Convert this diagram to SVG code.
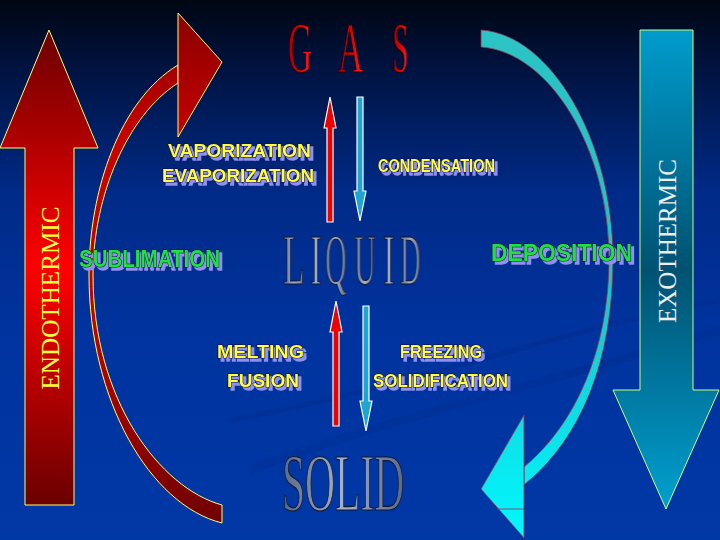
<svg xmlns="http://www.w3.org/2000/svg" width="720" height="540" viewBox="0 0 720 540">
<defs>
<linearGradient id="bg" x1="0" y1="0" x2="0" y2="1">
<stop offset="0" stop-color="#000612"/>
<stop offset="0.12" stop-color="#00123e"/>
<stop offset="0.35" stop-color="#002a86"/>
<stop offset="0.6" stop-color="#00339e"/>
<stop offset="1" stop-color="#0038a6"/>
</linearGradient>
<linearGradient id="endo" gradientUnits="userSpaceOnUse" x1="0" y1="30" x2="0" y2="505">
<stop offset="0" stop-color="#6a0000"/>
<stop offset="0.5" stop-color="#ff0000"/>
<stop offset="1" stop-color="#6a0000"/>
</linearGradient>
<linearGradient id="exo" gradientUnits="userSpaceOnUse" x1="0" y1="30" x2="0" y2="509">
<stop offset="0" stop-color="#009ccc"/>
<stop offset="0.5" stop-color="#005272"/>
<stop offset="1" stop-color="#00a0d0"/>
</linearGradient>
<linearGradient id="redc" gradientUnits="userSpaceOnUse" x1="0" y1="13" x2="0" y2="523">
<stop offset="0" stop-color="#8a0000"/>
<stop offset="0.25" stop-color="#c80000"/>
<stop offset="0.6" stop-color="#c00000"/>
<stop offset="1" stop-color="#700000"/>
</linearGradient>
<linearGradient id="cyanc" gradientUnits="userSpaceOnUse" x1="0" y1="30" x2="0" y2="538">
<stop offset="0" stop-color="#2cc4c4"/>
<stop offset="0.5" stop-color="#20c0c8"/>
<stop offset="1" stop-color="#00f8ff"/>
</linearGradient>
<linearGradient id="gasg" x1="0" y1="0" x2="1" y2="0">
<stop offset="0" stop-color="#a00000"/>
<stop offset="0.6" stop-color="#d80808"/>
<stop offset="1" stop-color="#ff2020"/>
</linearGradient>
<linearGradient id="greyg" x1="0" y1="0" x2="1" y2="0">
<stop offset="0" stop-color="#5a6888"/>
<stop offset="0.5" stop-color="#a8b0c4"/>
<stop offset="1" stop-color="#5a6888"/>
</linearGradient>
<filter id="shadow" x="-10%" y="-30%" width="120%" height="170%">
<feOffset in="SourceAlpha" dx="3" dy="3" result="off"/>
<feFlood flood-color="#9090ee"/>
<feComposite in2="off" operator="in" result="sh"/>
<feMerge><feMergeNode in="sh"/><feMergeNode in="SourceGraphic"/></feMerge>
</filter>
<style>
.lbl{font-family:"Liberation Sans",Arial,sans-serif;font-weight:bold;font-size:19px;filter:url(#shadow);}
.big{font-family:"Liberation Sans",Arial,sans-serif;font-weight:bold;font-size:23px;filter:url(#shadow);}
.yl{fill:#ffff40;stroke:#101058;stroke-width:1.4;paint-order:stroke;}
.gr{fill:#22e040;stroke:#101058;stroke-width:1.4;paint-order:stroke;}
.ttl{font-family:"Liberation Serif","Times New Roman",serif;}
.side{font-family:"Liberation Serif","Times New Roman",serif;font-size:25px;}
.upr{fill:#ee0000;stroke:#ffffff;stroke-width:1.2;}
.dnc{fill:#1ea6d0;stroke:#ffffff;stroke-width:1.2;}
</style>
</defs>
<rect width="720" height="540" fill="url(#bg)"/>
<path d="M250,470 C380,420 560,380 720,330" fill="none" stroke="#002e92" stroke-width="8" opacity="0.45"/>
<path d="M230,420 C400,390 560,330 720,300" fill="none" stroke="#002a88" stroke-width="5" opacity="0.35"/>

<g id="connectors">
<g id="endothermic">
<polygon points="49,30 98,148 74,148 74,505 25,505 25,148 0,148" fill="url(#endo)" stroke="#ffff70" stroke-width="1"/>
<text class="side" fill="#ffff40" transform="translate(59,298) rotate(-90)" text-anchor="middle" textLength="183" lengthAdjust="spacingAndGlyphs">ENDOTHERMIC</text>
</g>
<g id="exothermic">
<polygon points="640,30 693,30 693,390 719,390 666,509 613,390 640,390" fill="url(#exo)" stroke="#c8ff80" stroke-width="1"/>
<text class="side" fill="#eeeeee" transform="translate(676,241) rotate(-90)" text-anchor="middle" textLength="164" lengthAdjust="spacingAndGlyphs">EXOTHERMIC</text>
</g>
<g id="sublimation-arrow">
<path d="M178,65 C120,100 89,190 89,275 C89,400 150,505 222,523 L222,505 C160,488 93,400 93,275 C93,195 128,115 178,83 Z" fill="url(#redc)" stroke="#ffff70" stroke-width="1"/>
<polygon points="178,13 222,62 178,137" fill="url(#redc)" stroke="#ffff70" stroke-width="1"/>
</g>
<g id="deposition-arrow">
<path d="M481,30 C550,34 613,140 613,258 C613,360 582,438 524,485 L524,467 C575,425 609,350 609,258 C609,150 550,52 481,47 Z" fill="url(#cyanc)" stroke="#903050" stroke-width="0.8"/>
<polygon points="524,415 481,489 524,538" fill="url(#cyanc)" stroke="#903050" stroke-width="0.8"/>
<line x1="497" y1="509" x2="524" y2="509" stroke="#903050" stroke-width="0.8"/>
</g>
<g id="vaporization-arrow">
<polygon class="upr" points="330,97 336,128 333,128 333,222 327,222 327,128 324,128"/>
</g>
<g id="condensation-arrow">
<polygon class="dnc" points="357,97 363,97 363,191 366,191 360,221 354,191 357,191"/>
</g>
<g id="melting-arrow">
<polygon class="upr" points="336,301 342,332 339,332 339,426 333,426 333,332 330,332"/>
</g>
<g id="freezing-arrow">
<polygon class="dnc" points="363,306 369,306 369,401 372,401 366,431 360,401 363,401"/>
</g>
</g>

<g id="gas" class="ttl" font-size="71" fill="url(#gasg)" stroke="#2a0000" stroke-width="0.8">
<text transform="translate(288,72) scale(0.47,1)">G</text>
<text transform="translate(338,72) scale(0.49,1)">A</text>
<text transform="translate(392,72) scale(0.41,1)">S</text>
</g>

<g id="liquid" class="ttl" font-size="71" fill="url(#greyg)" stroke="#101830" stroke-width="1">
<text transform="translate(283,284) scale(0.5,1)">L</text>
<text transform="translate(310,284) scale(0.5,1)">I</text>
<text transform="translate(325,284) scale(0.42,1)">Q</text>
<text transform="translate(354,284) scale(0.42,1)">U</text>
<text transform="translate(383,284) scale(0.5,1)">I</text>
<text transform="translate(400,284) scale(0.4,1)">D</text>
</g>

<g id="solid" class="ttl" font-size="80" fill="url(#greyg)" stroke="#101830" stroke-width="1.2">
<text transform="translate(282,510) scale(0.52,1)" textLength="235" lengthAdjust="spacingAndGlyphs">SOLID</text>
</g>

<g id="label-vaporization" class="lbl">
<text class="yl" x="168" y="157" textLength="143" lengthAdjust="spacingAndGlyphs">VAPORIZATION</text>
<text class="yl" x="162" y="182" textLength="152" lengthAdjust="spacingAndGlyphs">EVAPORIZATION</text>
</g>
<g id="label-condensation" class="lbl">
<text class="yl" x="378" y="172" textLength="117" lengthAdjust="spacingAndGlyphs">CONDENSATION</text>
</g>
<g id="label-sublimation" class="big">
<text class="gr" x="79" y="267" textLength="141" lengthAdjust="spacingAndGlyphs">SUBLIMATION</text>
</g>
<g id="label-deposition" class="big">
<text class="gr" x="491" y="261" textLength="141" lengthAdjust="spacingAndGlyphs">DEPOSITION</text>
</g>
<g id="label-melting" class="lbl">
<text class="yl" x="217" y="358" textLength="87" lengthAdjust="spacingAndGlyphs">MELTING</text>
<text class="yl" x="227" y="387" textLength="72" lengthAdjust="spacingAndGlyphs">FUSION</text>
</g>
<g id="label-freezing" class="lbl">
<text class="yl" x="400" y="358" textLength="82" lengthAdjust="spacingAndGlyphs">FREEZING</text>
<text class="yl" x="373" y="387" textLength="135" lengthAdjust="spacingAndGlyphs">SOLIDIFICATION</text>
</g>
</svg>
